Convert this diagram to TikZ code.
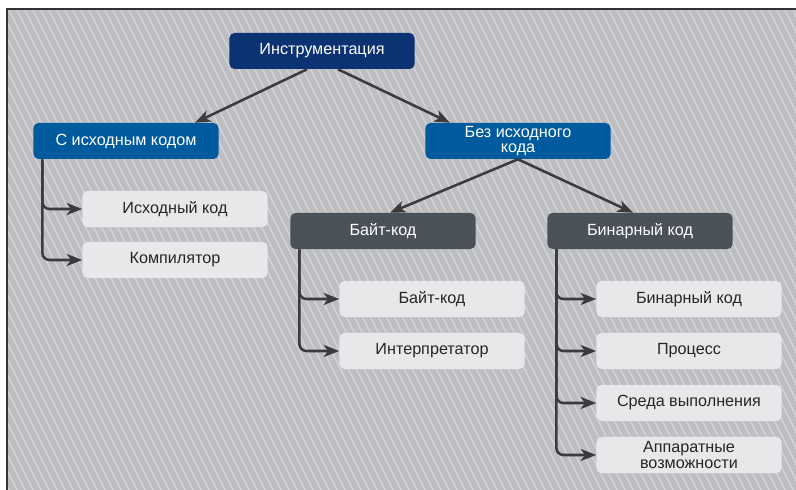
\documentclass[tikz,border=0pt]{standalone}
\usepackage{fontspec}
\setmainfont{Liberation Sans}
\usetikzlibrary{arrows.meta}
\definecolor{rootblue}{HTML}{0B3272}
\definecolor{catblue}{HTML}{005B9E}
\definecolor{kindgray}{HTML}{4B5159}
\definecolor{leafgray}{HTML}{E7E8EA}
\definecolor{bggray}{HTML}{BDBEC2}
\definecolor{stripegray}{HTML}{D3D4D7}
\definecolor{linegray}{HTML}{3B3B3D}
\begin{document}
\begin{tikzpicture}[x=0.025cm, y=-0.025cm,
  box/.style={rectangle, rounded corners=3.5pt, minimum width=4.625cm, minimum height=0.9cm,
    inner sep=1pt, align=center, font=\fontsize{11.5}{11}\selectfont},
  rootbox/.style={box, fill=rootblue, text=white},
  catbox/.style={box, fill=catblue, text=white},
  kindbox/.style={box, fill=kindgray, text=white},
  leafbox/.style={box, fill=leafgray, text=black!85},
  link/.style={draw=linegray, line width=1.8pt, -{Stealth[length=11pt, width=8.5pt, inset=3pt]}},
  branch/.style={link, rounded corners=5pt}]
% background
\useasboundingbox (0,0) rectangle (796,490);
\fill[bggray] (7,9) rectangle (796,490);
\begin{scope}
  \clip (7,9) rectangle (796,490);
  \foreach \s in {-260,-252,...,800}
    \draw[stripegray, line width=1pt] (\s,0) -- ++(250,500);
\end{scope}
\draw[black!80, line width=1.4pt] (7,490) -- (7,9) -- (796,9);

% nodes
\node[rootbox] (instr) at (322,51) {Инструментация};
\node[catbox] (src) at (126,141) {С исходным кодом};
\node[catbox] (nosrc) at (518,141) {Без исходного\\кода};
\node[kindbox] (byte) at (383,231) {Байт-код};
\node[kindbox] (bin) at (640,231) {Бинарный код};
\node[leafbox] (srccode) at (175,209) {Исходный код};
\node[leafbox] (compiler) at (175,260) {Компилятор};
\node[leafbox] (bytecode) at (432,299) {Байт-код};
\node[leafbox] (interp) at (432,351) {Интерпретатор};
\node[leafbox] (bincode) at (689,299) {Бинарный код};
\node[leafbox] (proc) at (689,351) {Процесс};
\node[leafbox] (env) at (689,403) {Среда выполнения};
\node[leafbox] (hw) at (689,455) {Аппаратные\\возможности};

% arrows
\draw[link] ([xshift=-0.375cm]instr.south) -- ([xshift=1.725cm]src.north);
\draw[link] ([xshift=0.4cm]instr.south) -- ([xshift=-1.7cm]nosrc.north);
\draw[link] (nosrc.south) -- ([xshift=0.175cm]byte.north);
\draw[link] (nosrc.south) -- ([xshift=-0.175cm]bin.north);
\foreach \p/\c in {src/srccode, src/compiler, byte/bytecode, byte/interp,
                   bin/bincode, bin/proc, bin/env, bin/hw}
  \draw[branch] ([xshift=0.23cm]\p.south west) |- (\c.west);
\end{tikzpicture}
\end{document}
